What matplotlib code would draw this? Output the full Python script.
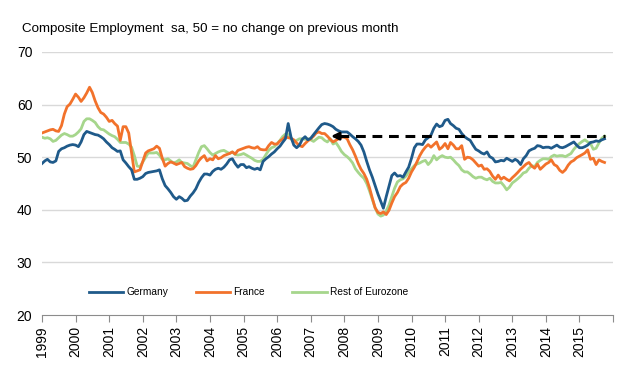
import matplotlib
matplotlib.use('Agg')
import matplotlib.pyplot as plt
import matplotlib.dates as mdates
import pandas as pd
import numpy as np

# Monthly PMI composite employment, Jan 1999 onwards
germany = [
    48.8, 49.3, 49.6, 49.1, 49.0, 49.3, 51.1, 51.6, 51.8, 52.1, 52.3, 52.4,
    52.3, 52.0, 52.9, 54.3, 54.9, 54.7, 54.5, 54.3, 54.2, 53.9, 53.5, 52.9,
    52.4, 51.8, 51.5, 51.1, 51.2, 49.5, 48.9, 48.2, 47.6, 45.8, 45.8, 46.0,
    46.3, 46.9, 47.1, 47.2, 47.3, 47.4, 47.6, 45.9, 44.6, 44.0, 43.3, 42.5,
    42.0, 42.5, 42.2, 41.7, 41.8, 42.6, 43.2, 44.0, 45.2, 46.1, 46.8, 46.8,
    46.6, 47.3, 47.7, 47.9, 47.7, 48.1, 48.7, 49.5, 49.7, 48.8, 48.1, 48.6,
    48.6, 48.0, 48.2, 47.9, 47.7, 47.9, 47.6, 49.2, 49.7, 50.1, 50.6, 51.0,
    51.6, 52.1, 52.8, 53.5, 56.4, 53.8, 52.3, 51.8, 52.3, 53.4, 53.9, 53.3,
    53.6, 54.3, 54.9, 55.6, 56.2, 56.4, 56.3, 56.1, 55.8, 55.3, 55.0, 54.8,
    54.8, 54.8, 54.4, 53.9, 53.5, 53.0, 52.3, 51.0, 49.2, 47.6, 46.2, 44.6,
    43.0, 41.6, 40.3, 42.5, 44.5, 46.5, 47.0, 46.4, 46.5, 46.2, 47.2, 48.1,
    49.8, 51.8, 52.5, 52.5, 52.4, 53.3, 53.7, 54.2, 55.5, 56.3, 55.8, 56.0,
    57.0, 57.2, 56.4, 56.0, 55.5, 55.3, 54.5, 53.9, 53.5, 53.2, 52.3, 51.5,
    51.2, 50.8, 50.6, 51.0, 50.1, 49.8, 49.1, 49.2, 49.4, 49.3, 49.8, 49.5,
    49.2, 49.6, 49.3, 48.6, 49.7, 50.3, 51.2, 51.5, 51.7, 52.2, 52.1, 51.8,
    51.9, 51.9, 51.7, 52.0, 52.3, 51.9, 51.8, 52.0, 52.3, 52.6, 52.9, 52.3,
    51.8, 51.8, 52.0, 52.3, 52.8, 52.9, 53.1, 53.0, 53.3, 53.5,
]

france = [
    54.6, 54.8, 55.0, 55.2, 55.3, 55.0, 54.9, 56.0, 58.2, 59.6, 60.1, 61.0,
    62.0, 61.4, 60.6, 61.3, 62.2, 63.3, 62.3, 60.7, 59.4, 58.5, 58.2, 57.6,
    56.8, 57.0, 56.4, 55.9, 53.2, 55.8, 55.8, 54.6, 50.8, 47.2, 47.4, 47.6,
    49.2, 50.8, 51.2, 51.4, 51.6, 52.1, 51.7, 49.8, 48.3, 48.8, 49.1, 48.9,
    48.6, 48.8, 49.0, 48.2, 47.9, 47.7, 47.8, 48.4, 49.3, 49.9, 50.3, 49.3,
    49.7, 49.5, 50.3, 49.7, 49.9, 50.3, 50.5, 50.7, 51.0, 50.6, 51.3, 51.5,
    51.7, 51.9, 52.0, 51.8, 51.7, 52.0, 51.5, 51.4, 51.4, 52.2, 52.8, 52.5,
    52.5, 53.1, 53.4, 53.9, 53.7, 53.6, 53.3, 52.7, 52.2, 52.0, 52.6, 53.1,
    53.5, 54.0, 54.6, 54.8, 54.5, 54.5, 54.0, 53.4, 52.9, 53.2, 53.5, 53.8,
    53.8, 53.5, 52.4, 51.4, 50.2, 48.8, 47.7, 46.9, 45.8, 44.2, 42.2, 40.4,
    39.5, 39.3, 39.6, 39.1, 39.9, 41.3, 42.5, 43.3, 44.4, 44.9, 45.2, 46.0,
    47.2, 48.1, 49.1, 50.3, 51.2, 51.9, 52.4, 51.9, 52.4, 52.9, 51.5, 51.9,
    52.6, 51.6, 52.8, 52.3, 51.6, 51.6, 52.2, 49.6, 50.0, 49.9, 49.5, 48.9,
    48.3, 48.5, 47.7, 47.8, 47.3, 46.4, 45.8, 46.6, 45.8, 46.2, 45.8, 45.5,
    46.1, 46.6, 47.1, 47.7, 48.2, 48.7, 49.0, 48.3, 47.9, 48.7, 47.7, 48.2,
    48.7, 49.0, 49.5, 48.6, 48.3, 47.5, 47.1, 47.6, 48.5, 49.1, 49.4, 49.9,
    50.2, 50.5, 50.8, 51.4, 49.6, 49.8, 48.6, 49.5, 49.2, 49.0,
]

rest_ez = [
    53.8, 53.6, 53.7, 53.5, 53.0, 53.2, 53.7, 54.2, 54.5, 54.3, 54.0, 54.0,
    54.3, 54.8, 55.4, 56.8, 57.3, 57.3, 57.0, 56.6, 55.8, 55.3, 55.2, 54.8,
    54.4, 54.1, 53.9, 53.4, 52.8, 52.8, 52.8, 52.5, 51.9, 50.3, 48.3, 48.2,
    49.1, 50.0, 50.8, 50.8, 50.8, 50.9, 50.4, 49.6, 49.5, 49.7, 49.3, 48.9,
    49.1, 49.5, 49.0, 48.9, 48.8, 48.4, 48.1, 49.5, 50.9, 52.0, 52.2, 51.6,
    50.9, 50.4, 50.7, 51.0, 51.2, 51.3, 51.0, 50.7, 51.0, 50.5, 50.4, 50.5,
    50.7, 50.4, 50.1, 49.8, 49.4, 49.2, 49.2, 49.6, 50.5, 51.3, 51.8, 52.0,
    52.6, 53.2, 53.9, 54.4, 54.3, 53.5, 52.9, 53.2, 53.5, 53.5, 53.4, 53.5,
    53.3, 53.0, 53.4, 53.8, 53.7, 53.2, 52.9, 53.5, 52.5, 52.8, 52.0, 51.1,
    50.5, 50.1, 49.6, 48.9, 47.8, 47.1, 46.5, 46.0, 45.0, 43.6, 42.0, 40.4,
    39.2, 38.8, 39.0, 39.8, 40.9, 42.5, 44.1, 45.3, 45.7, 45.9, 46.4, 47.2,
    47.8, 48.4, 48.7, 48.9, 49.2, 49.4, 48.6, 49.2, 50.3, 49.5, 50.0, 50.3,
    50.0, 49.9, 50.0, 49.5, 48.9, 48.4, 47.6, 47.2, 47.2, 46.8, 46.3, 46.0,
    46.2, 46.2, 45.9, 45.7, 46.0, 45.4, 45.1, 45.1, 45.2, 44.6, 43.8, 44.3,
    45.1, 45.5, 45.9, 46.4, 47.0, 47.2, 47.9, 48.4, 48.2, 49.0, 49.4, 49.7,
    49.7, 49.6, 50.1, 50.4, 50.2, 50.3, 50.3, 50.1, 50.4, 50.7, 51.5, 52.1,
    52.6, 53.0, 53.3, 52.9, 52.6, 51.5, 51.7, 52.7, 53.6, 54.0,
]

level_now = 54.0
arrow_from = '2015-10-01'
arrow_to = '2007-07-10'

plt.rcParams['font.family'] = ['Liberation Sans', 'DejaVu Sans']

dates = pd.date_range('1999-01-01', periods=len(germany), freq='MS')

fig = plt.figure(figsize=(6.25, 3.7), dpi=100)
ax = fig.add_axes([0.0672, 0.1486, 0.9136, 0.7109])

ax.plot(dates, germany, color='#1F5A8A', lw=2.0, label='Germany', zorder=4)
ax.plot(dates, france, color='#F2722B', lw=2.0, label='France', zorder=3)
ax.plot(dates, rest_ez, color='#A6D68C', lw=2.0, label='Rest of Eurozone', zorder=2)

# dashed reference line with arrow head pointing back
ax.plot([pd.Timestamp('2007-11-01'), pd.Timestamp(arrow_from)], [level_now, level_now],
        color='black', lw=2.2, dashes=(3.2, 2.2), zorder=5)
ax.annotate('', xy=(pd.Timestamp(arrow_to), level_now),
            xytext=(pd.Timestamp('2007-12-01'), level_now),
            arrowprops=dict(arrowstyle='-|>', color='black', lw=2.0, mutation_scale=11),
            zorder=6)

ax.set_ylim(20, 70)
ax.set_yticks([20, 30, 40, 50, 60, 70])
ax.set_xlim(pd.Timestamp('1999-01-01'), pd.Timestamp('2016-01-01'))
labels = [str(y) for y in range(1999, 2016)] + ['']
ax.set_xticks([pd.Timestamp('%d-01-01' % y) for y in range(1999, 2017)])
ax.set_xticklabels(labels, rotation=90, fontsize=10)

for y in [30, 40, 50, 60, 70]:
    ax.axhline(y, color='#D9D9D9', lw=1.0, zorder=0)

for s in ['top', 'right', 'left']:
    ax.spines[s].set_visible(False)
ax.spines['bottom'].set_color('#8C8C8C')
ax.tick_params(axis='x', direction='out', length=5, color='#8C8C8C', pad=3)
ax.tick_params(axis='y', length=0, pad=7, labelsize=10)

ax.legend(loc='center left', bbox_to_anchor=(0.082, 0.087), ncol=3, frameon=False,
          fontsize=7.3, handlelength=3.4, handletextpad=0.3, columnspacing=2.7,
          borderpad=0, borderaxespad=0)

fig.text(0.035, 0.922, 'Composite Employment  sa, 50 = no change on previous month',
         fontsize=9.6, va='center', ha='left')

fig.savefig('out.png', dpi=100)
